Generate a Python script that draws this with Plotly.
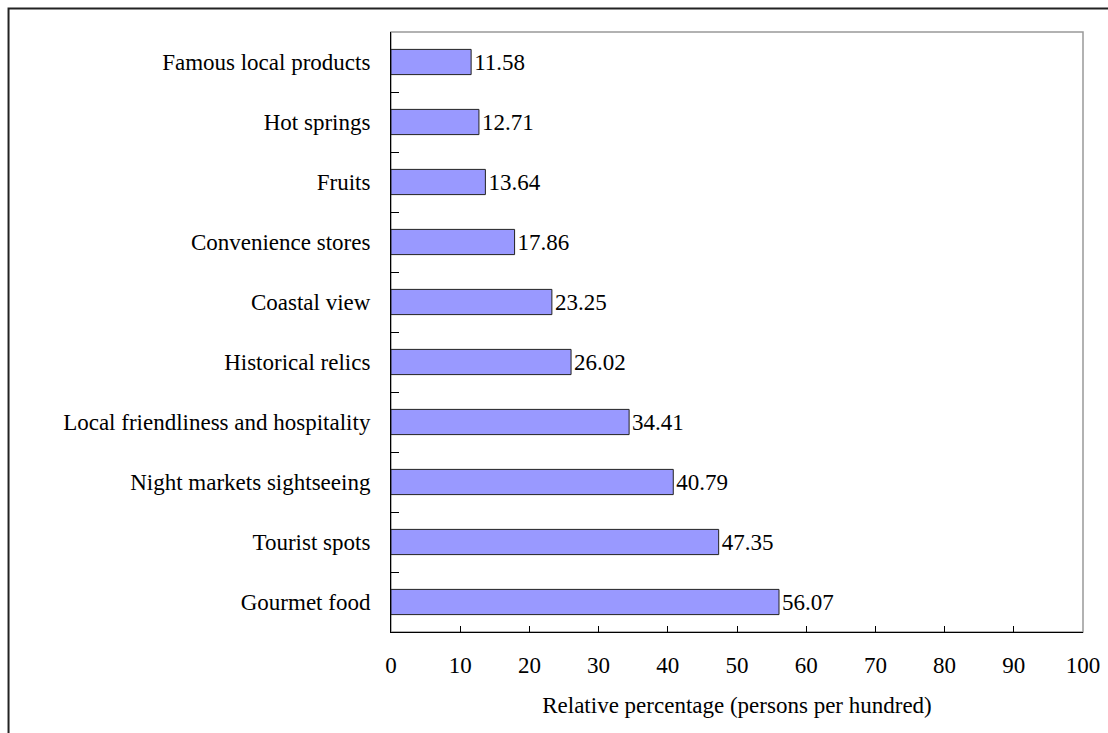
import plotly.graph_objects as go


# -------------------------------------------------------
# Data
# -------------------------------------------------------

categories = [
    "Famous local products",
    "Hot springs",
    "Fruits",
    "Convenience stores",
    "Coastal view",
    "Historical relics",
    "Local friendliness and hospitality",
    "Night markets sightseeing",
    "Tourist spots",
    "Gourmet food",
]

values = [11.58, 12.71, 13.64, 17.86, 23.25, 26.02, 34.41, 40.79, 47.35, 56.07]

x_ticks = [0, 10, 20, 30, 40, 50, 60, 70, 80, 90, 100]


# -------------------------------------------------------
# Figure
# -------------------------------------------------------

font = "Liberation Serif, Times New Roman, serif"
fsize = 23

fig = go.Figure()

fig.add_trace(
    go.Bar(
        x=values,
        y=categories,
        orientation="h",
        width=0.42,
        marker=dict(color="#9999FF", line=dict(color="#222222", width=1)),
        text=[f"{v:.2f}" for v in values],
        textposition="outside",
        textfont=dict(family=font, size=fsize, color="#000000"),
        cliponaxis=False,
        showlegend=False,
    )
)

fig.update_xaxes(
    range=[0, 100],
    tickvals=x_ticks,
    ticks="inside",
    ticklen=6,
    tickcolor="#000000",
    showline=True,
    linecolor="#000000",
    linewidth=1,
    showgrid=False,
    zeroline=False,
    automargin=False,
    ticklabelstandoff=12,
    tickfont=dict(family=font, size=fsize, color="#000000"),
    title=dict(
        text="Relative percentage (persons per hundred)",
        font=dict(family=font, size=fsize, color="#000000"),
        standoff=20,
    ),
)

fig.update_yaxes(
    autorange="reversed",
    ticks="inside",
    tickson="boundaries",
    ticklen=8,
    tickcolor="#000000",
    showline=True,
    linecolor="#000000",
    linewidth=1,
    showgrid=False,
    automargin=False,
    ticklabelstandoff=15,
    tickfont=dict(family=font, size=fsize, color="#000000"),
)

# plot area frame (grey top/right) and outer chart border
fig.add_shape(
    type="rect", xref="paper", yref="paper",
    x0=0, x1=1, y0=0, y1=1,
    line=dict(color="#999999", width=1.5),
    layer="below",
)
fig.add_shape(
    type="rect", xref="paper", yref="paper",
    x0=-0.5527, x1=1.2, y0=-0.3, y1=1.039,
    line=dict(color="#222222", width=2),
)

fig.update_layout(
    width=1108,
    height=733,
    margin=dict(l=391, r=25, t=32, b=101),
    paper_bgcolor="#ffffff",
    plot_bgcolor="#ffffff",
)

fig.write_html(
    "out.html",
    config={"displayModeBar": False},
    post_script="document.body.style.margin='0';document.body.style.overflow='hidden';",
)
